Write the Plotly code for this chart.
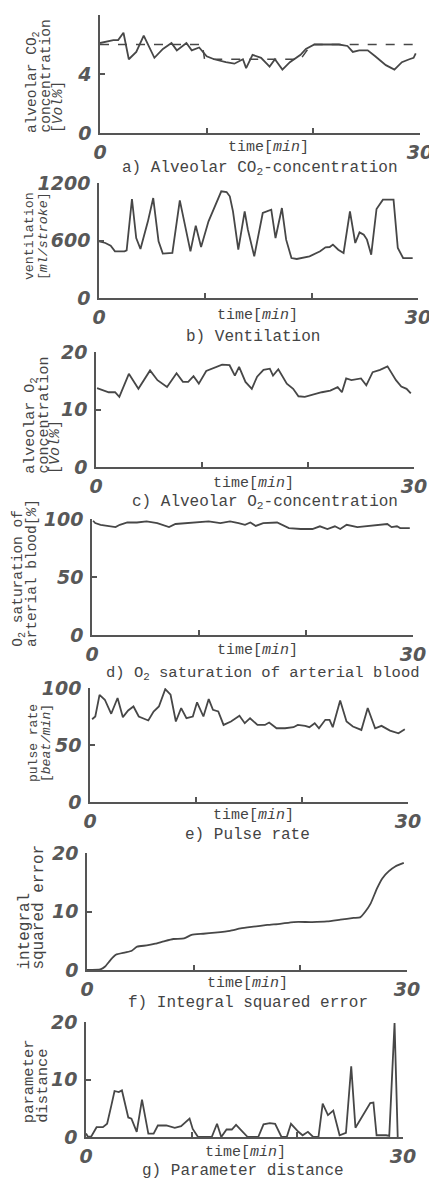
import re
import plotly.graph_objects as go

W, H = 437, 1182
OFF = 8  # the page body has an 8px default margin; positions below are window pixels

# ---------------- data ----------------
# a) alveolar CO2 concentration [Vol%]
a_time = [0, 1.25, 1.7, 2.2, 2.7, 3.4, 4.1, 5.1, 5.9, 6.7, 7.2, 8.1, 8.6, 9.3, 10.0, 10.7, 11.8, 12.6, 13.4, 13.7,
          14.3, 15.1, 15.9, 16.4, 17.1, 17.8, 18.8, 19.3, 20.1, 21.2, 22.4, 23.2, 23.7, 24.3, 25.1, 25.8, 26.8,
          27.6, 28.3, 29.0, 29.4, 29.6]
a_co2 = [6.1, 6.3, 6.3, 6.8, 5.0, 5.5, 6.6, 5.1, 5.7, 6.1, 5.6, 6.1, 5.6, 5.8, 5.2, 5.0, 4.8, 4.7, 5.0, 4.4,
         5.3, 5.1, 4.5, 5.0, 4.3, 4.8, 5.3, 5.7, 6.0, 6.0, 6.0, 5.9, 5.5, 5.6, 5.6, 5.2, 4.6,
         4.3, 4.8, 5.0, 5.1, 5.4]
a_target_time = [0, 9.6, 9.8, 18.8, 19.8, 29.8]
a_target = [6.0, 6.0, 5.0, 5.0, 6.0, 6.0]

# b) ventilation [ml/stroke]
b_time = [0.0, 0.6, 1.1, 1.5, 2.4, 2.6, 3.1, 3.5, 3.9, 4.6, 5.1, 5.6, 6.0, 6.9, 7.6, 8.6, 9.1, 9.6, 10.3, 11.0,
          11.5, 12.0, 12.3, 12.6, 13.1, 13.7, 14.0, 14.6, 15.4, 16.2, 16.6, 17.2, 17.6, 18.1, 18.6, 19.8, 20.8,
          21.3, 21.7, 22.0, 22.5, 23.0, 23.6, 24.1, 24.5, 24.9, 25.2, 25.6, 26.1, 26.7, 27.7, 28.1, 28.6, 29.5]
b_vent = [591, 574, 546, 487, 487, 497, 1033, 626, 511, 800, 1043, 591, 463, 470, 1019, 487, 755, 532, 800, 991,
          1113, 1106, 1061, 904, 504, 904, 713, 435, 887, 922, 626, 939, 609, 417, 407, 435, 487,
          529, 532, 557, 504, 470, 904, 574, 685, 661, 609, 452, 929, 1026, 1026, 522, 417, 417]

# c) alveolar O2 concentration [Vol%]
c_time = [0.1, 0.7, 1.2, 1.8, 2.2, 3.1, 4.0, 5.1, 5.8, 6.7, 7.6, 8.2, 8.7, 9.2, 9.7, 10.4, 11.1, 11.9, 12.6, 13.1,
          13.5, 14.1, 14.7, 15.2, 15.8, 16.4, 16.7, 17.2, 18.0, 18.6, 19.1, 19.7, 21.3, 22.1, 22.8, 23.2, 23.6,
          24.1, 25.0, 25.5, 26.1, 26.8, 27.5, 28.3, 28.8, 29.3, 29.7]
c_o2 = [13.7, 13.3, 13.0, 13.0, 12.2, 16.2, 13.6, 16.8, 15.1, 13.9, 16.3, 14.8, 14.8, 15.8, 14.5, 16.7, 17.2, 17.8,
        17.7, 15.9, 17.4, 14.8, 13.6, 15.7, 16.9, 17.1, 15.9, 17.0, 14.5, 13.6, 12.3, 12.2, 13.0, 13.3, 13.9,
        13.0, 15.4, 15.1, 15.4, 14.2, 16.5, 16.9, 17.5, 15.1, 14.0, 13.6, 12.8]

# d) O2 saturation of arterial blood [%]
d_time = [0.1, 0.3, 0.8, 1.4, 2.2, 2.6, 3.3, 4.2, 5.1, 6.1, 7.2, 7.8, 8.9, 10.1, 10.9, 12.0, 12.9, 13.7, 14.3, 14.8,
          15.3, 16.0, 17.3, 18.4, 19.5, 20.6, 21.3, 22.0, 22.7, 23.2, 23.8, 24.8, 25.7, 26.6, 27.6, 28.0, 28.5,
          28.8, 29.7]
d_sat = [98.5, 96.5, 95, 94.2, 93, 95, 97, 97, 98, 96.5, 93, 95.7, 96.5, 97, 98, 96.5, 98, 96.5, 95, 97,
         94, 96.5, 97, 92.2, 91.4, 91.4, 93.7, 91.4, 93.7, 91.4, 95, 93, 93.7, 95, 95.7, 93, 93.7,
         92.2, 92.2]

# e) pulse rate [beat/min]
e_time = [0.2, 0.5, 0.9, 1.4, 2.0, 2.6, 3.1, 3.6, 4.1, 4.6, 5.5, 6.0, 6.5, 7.1, 7.6, 8.1, 8.6, 9.1, 9.7, 10.1,
          10.7, 11.2, 11.6, 12.1, 12.6, 13.3, 14.1, 14.6, 15.1, 15.8, 16.5, 16.9, 17.6, 18.4, 19.2, 19.6, 20.3,
          20.7, 21.2, 21.6, 22.2, 22.6, 22.9, 23.6, 24.2, 24.8, 25.6, 26.2, 26.9, 27.5, 28.3, 29.1, 29.7]
e_pulse = [72.6, 75, 94, 89.7, 77.4, 91.2, 74.4, 80.3, 83.8, 75, 71.5, 79.4, 83.8, 99, 94.1, 70.6, 82.4, 73.5, 75,
           87.4, 75, 90.3, 80.9, 79.4, 67.6, 70.6, 75.6, 69.1, 73.5, 67.6, 67.6, 69.7, 64.7, 64.7, 65.6, 67.6,
           66.8, 65.6, 69.1, 64.7, 72.1, 72.1, 65.6, 89.1, 70.6, 66.2, 63.2, 82.4, 64.7, 66.8, 62.6, 60.3, 63.8]

# f) integral squared error
f_time = [0, 1.25, 1.7, 2.2, 2.7, 3.6, 4.2, 4.7, 5.6, 6.4, 7.2, 8.1, 9.1, 9.8, 10.9, 12.0, 13.4, 14.4, 15.6, 16.9,
          18.1, 19.4, 21.1, 22.5, 23.75, 25.0, 25.6, 26.1, 26.6, 27.2, 27.7, 28.3, 28.9, 29.7]
f_ise = [0, 0.1, 0.6, 1.7, 2.6, 3.0, 3.3, 4.0, 4.2, 4.5, 4.9, 5.3, 5.4, 6.0, 6.2, 6.4, 6.7, 7.1, 7.4, 7.7,
         7.9, 8.2, 8.2, 8.3, 8.6, 8.9, 9.0, 10.0, 11.4, 14.0, 15.7, 16.9, 17.7, 18.3]

# g) parameter distance
g_time = [0, 0.2, 0.5, 1.0, 1.6, 2.0, 2.4, 2.7, 3.1, 3.4, 4.0, 4.3, 4.8, 5.3, 5.9, 6.4, 6.8, 7.6, 8.4, 9.0,
          9.8, 10.1, 10.6, 11.9, 12.4, 12.8, 13.3, 13.8, 14.2, 15.3, 16.3, 16.8, 17.4, 17.9, 18.5, 19.0, 19.4,
          20.1, 20.5, 21.0, 21.5, 22.0, 22.4, 22.9, 23.4, 24.0, 24.6, 25.1, 25.5, 26.9, 27.2, 27.5, 28.4, 28.7,
          29.2, 29.5]
g_dist = [0.6, 0, 0.1, 1.7, 1.7, 2.3, 5.5, 8.0, 7.8, 8.1, 3.4, 3.2, 0.9, 6.5, 0.6, 0.6, 2.0, 2.0, 1.6, 1.9,
          3.2, 1.4, 0, 0, 2.3, 0, 1.3, 1.3, 2.1, 0, 0, 2.2, 2.4, 2.3, 0, 0, 2.3,
          0.9, 0.3, 0.9, 0, 0, 5.8, 3.8, 4.6, 0.3, 0.7, 12.3, 1.6, 5.9, 6.0, 0.3, 0.3, 0.2,
          19.8, 0]

# tick labels / texts
x_tickvals = [0, 10, 20, 30]
x_ticktext = ["0", "", "", "30"]
time_label = "time[<i>min</i>]"
captions = ["a) Alveolar CO<sub>2</sub>-concentration", "b) Ventilation", "c) Alveolar O<sub>2</sub>-concentration",
            "d) O<sub>2</sub> saturation of arterial blood", "e) Pulse rate", "f) Integral squared error",
            "g) Parameter distance"]
ytitles = [["alveolar CO<sub>2</sub>", "concentration", "[<i>Vol%</i>]"],
           ["ventilation", "[<i>ml/stroke</i>]"],
           ["alveolar O<sub>2</sub>", "concentration", "[<i>Vol%</i>]"],
           ["O<sub>2</sub> saturation of", "arterial blood[<i>%</i>]"],
           ["pulse rate", "[<i>beat/min</i>]"],
           ["integral", "squared error"],
           ["parameter", "distance"]]
y_ticks = [[0, 4, 8], [0, 600, 1200], [0, 10, 20], [0, 50, 100], [0, 50, 100], [0, 10, 20], [0, 10, 20]]

series = [
    [(a_time, a_co2, "solid"), (a_target_time, a_target, "dash")],
    [(b_time, b_vent, "solid")],
    [(c_time, c_o2, "solid")],
    [(d_time, d_sat, "solid")],
    [(e_time, e_pulse, "solid")],
    [(f_time, f_ise, "solid")],
    [(g_time, g_dist, "solid")],
]

# ---------------- layout (window-pixel geometry of each panel) ----------------
geom = [  # x0, x30, y_bottom, y_top
    (100, 420, 133, 15),
    (99, 418, 298, 183),
    (96, 414, 467, 352),
    (92, 413, 635, 519),
    (90, 408, 802, 688),
    (87, 407, 970, 853),
    (86, 403, 1137, 1022),
]
caption_pos = [(260, 168), (253, 337), (265, 502), (262, 673), (247, 835), (248, 1003), (243, 1171)]
caption_size = [16, 16, 16, 15.5, 16, 16, 16]
time_pos = [(268, 147), (257, 315), (253, 483), (257, 650), (253, 815), (247, 983), (245, 1152)]
ytitle_x = [[33, 46, 58], [29, 43], [31, 44, 55], [19, 32], [33, 46], [25, 39], [29, 43]]
ytitle_bottom = [133, 280, 474, 647, 782, 970, 1123]
ytitle_size = [14.5, 13.3, 15, 14.5, 13, 16, 15.5]

LINE = "#474747"
AXIS = "#555555"
TEXT = "#444444"
TEXT_FONT = "Liberation Mono"
tickfont = dict(family="DejaVu Sans", size=19, color="#585858", weight="bold", style="italic")


def text_len(s, size):
    # monospace advance = 0.6 em; subscript glyphs drawn at 70 %
    n = 0.0
    for part in re.split(r"(<sub>.*?</sub>)", s):
        if part.startswith("<sub>"):
            n += 0.7 * len(re.sub(r"<[^>]+>", "", part))
        else:
            n += len(re.sub(r"<[^>]+>", "", part))
    return n * 0.6 * size


def px_x(p):
    return (p - OFF) / W


def px_y(p):
    return 1 - (p - OFF) / H


fig = go.Figure()
layout = {}
annotations = []

for i, (x0, x1, yb, yt) in enumerate(geom):
    n = "" if i == 0 else str(i + 1)
    xa, ya = "x" + n, "y" + n
    for xs, ys, dash in series[i]:
        fig.add_trace(go.Scatter(x=xs, y=ys, mode="lines", xaxis=xa, yaxis=ya,
                                 line=dict(color=LINE, width=1.8 if dash == "solid" else 1.5, dash=dash,
                                           shape="spline" if i == 5 else "linear", smoothing=0.5),
                                 showlegend=False, hoverinfo="skip"))
    layout["xaxis" + n] = dict(domain=[px_x(x0), px_x(x1)], range=[0, 30], anchor=ya, automargin=False,
                               showline=True, linecolor=AXIS, linewidth=1.5, showgrid=False, zeroline=False,
                               ticks="inside", ticklen=5, tickwidth=1.5, tickcolor=AXIS,
                               tickvals=x_tickvals, ticktext=x_ticktext, tickfont=tickfont, ticklabelstandoff=1)
    layout["yaxis" + n] = dict(domain=[px_y(yb), px_y(yt)], range=[0, y_ticks[i][-1]], anchor=xa, automargin=False,
                               showline=True, linecolor=AXIS, linewidth=1.5, showgrid=False, zeroline=False,
                               ticks="inside", ticklen=5, tickwidth=1.5, tickcolor=AXIS,
                               tickvals=y_ticks[i], tickfont=tickfont, ticklabelstandoff=3)
    cx, cy = caption_pos[i]
    annotations.append(dict(text=captions[i], x=px_x(cx), y=px_y(cy), xref="paper", yref="paper",
                            xanchor="center", yanchor="middle", showarrow=False,
                            font=dict(family=TEXT_FONT, size=caption_size[i], color=TEXT)))
    tx, ty = time_pos[i]
    annotations.append(dict(text=time_label, x=px_x(tx), y=px_y(ty), xref="paper", yref="paper",
                            xanchor="center", yanchor="middle", showarrow=False,
                            font=dict(family=TEXT_FONT, size=15, color=TEXT)))
    sz = ytitle_size[i]
    for line, lx in zip(ytitles[i], ytitle_x[i]):
        cyl = ytitle_bottom[i] - text_len(line, sz) / 2
        annotations.append(dict(text=line, x=px_x(lx), y=px_y(cyl), xref="paper", yref="paper",
                                xanchor="center", yanchor="middle", textangle=-90, showarrow=False,
                                font=dict(family=TEXT_FONT, size=sz, color=TEXT)))

fig.update_layout(**layout)
fig.update_layout(width=W, height=H, autosize=False,
                  margin=dict(l=0, r=0, t=0, b=0, pad=0, autoexpand=False),
                  paper_bgcolor="white", plot_bgcolor="white", annotations=annotations)

fig.write_html("out.html", config={"displayModeBar": False, "responsive": False})
